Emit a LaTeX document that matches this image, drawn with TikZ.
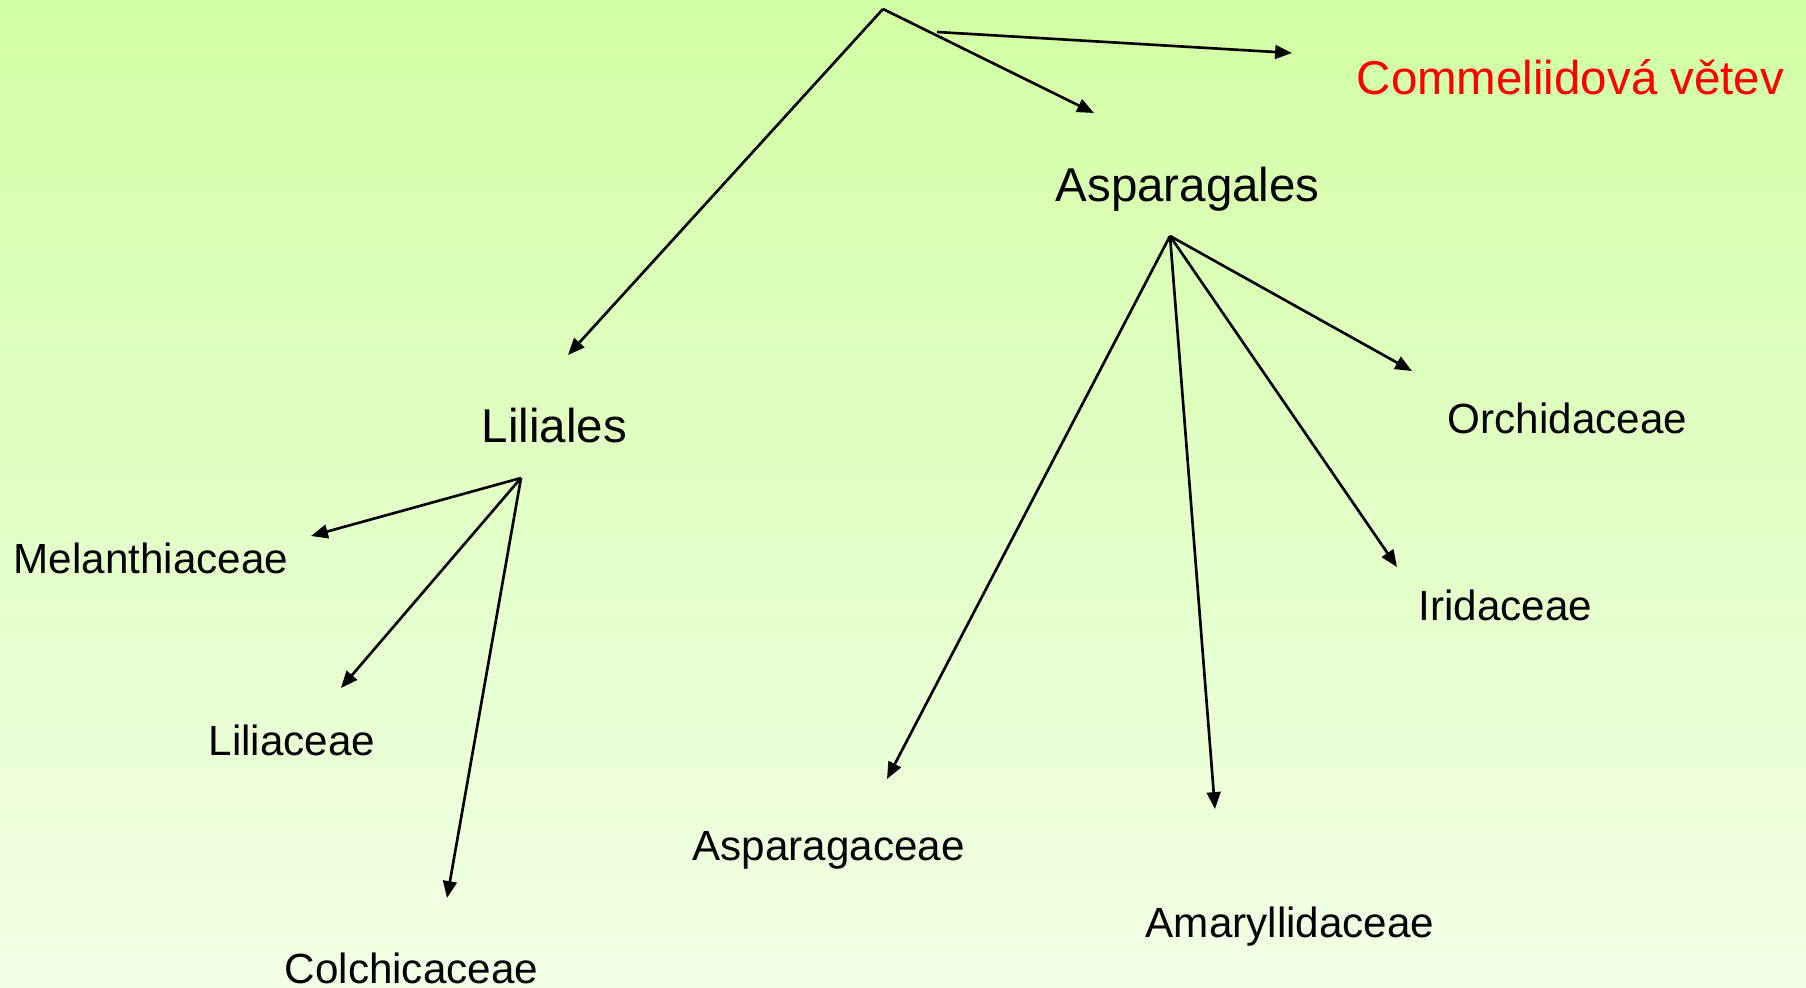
\documentclass[tikz,border=0pt]{standalone}
\usepackage{fontspec}
\setmainfont{Liberation Sans}
\usepackage{xcolor}
\usetikzlibrary{positioning, calc, arrows.meta}
\definecolor{bgtop}{RGB}{210,255,165}
\definecolor{bgbottom}{RGB}{242,255,230}
\definecolor{cladered}{RGB}{255,0,0}
\tikzset{
  order/.style={anchor=base west, inner sep=0pt, font=\fontsize{13.5pt}{16pt}\selectfont},
  family/.style={anchor=base west, inner sep=0pt, font=\fontsize{12pt}{14pt}\selectfont},
  branch/.style={-{Triangle[length=4.8pt,width=3.9pt]}, line width=0.75pt}
}
\begin{document}
\begin{tikzpicture}[x=0.01cm, y=-0.01cm]

    % Background with gradient
    \shade[top color=bgtop, bottom color=bgbottom] (0,0) rectangle (1806,988);
    \useasboundingbox (0,0) rectangle (1806,988);

    % Orders and clade
    \node[order] (liliales) at (481,442) {Liliales};
    \node[order] (asparagales) at (1055,202) {Asparagales};
    \node[order, text=cladered] (commel) at (1356,95) {Commeliidová větev};

    % Families of Liliales
    \node[family] (melanth) at (13,573) {Melanthiaceae};
    \node[family] (liliac) at (208,755) {Liliaceae};
    \node[family] (colchic) at (284,983) {Colchicaceae};

    % Families of Asparagales
    \node[family] (asparagac) at (692,860) {Asparagaceae};
    \node[family] (amaryl) at (1145,937) {Amaryllidaceae};
    \node[family] (iridac) at (1418,620) {Iridaceae};
    \node[family] (orchid) at (1447,433) {Orchidaceae};

    % Fork points and arrow ends
    \coordinate (apex) at (883,9);
    \coordinate (commelstart) at (937,32);
    \coordinate (lilfork) at (521,478);
    \coordinate (aspfork) at (1170,236);

    \coordinate (toliliales) at (568,355);
    \coordinate (toasparagales) at (1094,113);
    \coordinate (tocommel) at (1292,53);
    \coordinate (tomelanth) at (311,536);
    \coordinate (toliliac) at (341,688);
    \coordinate (tocolchic) at (447,898);
    \coordinate (toasparagac) at (887,779);
    \coordinate (toamaryl) at (1215,809);
    \coordinate (toiridac) at (1397,567);
    \coordinate (toorchid) at (1412,371);

    % Top branches
    \draw[branch] (apex) -- (toliliales);
    \draw[branch] (apex) -- (toasparagales);
    \draw[branch] (commelstart) -- (tocommel);

    % Liliales branches
    \foreach \t in {tomelanth, toliliac, tocolchic}
        \draw[branch] (lilfork) -- (\t);

    % Asparagales branches
    \foreach \t in {toasparagac, toamaryl, toiridac, toorchid}
        \draw[branch] (aspfork) -- (\t);

\end{tikzpicture}
\end{document}
